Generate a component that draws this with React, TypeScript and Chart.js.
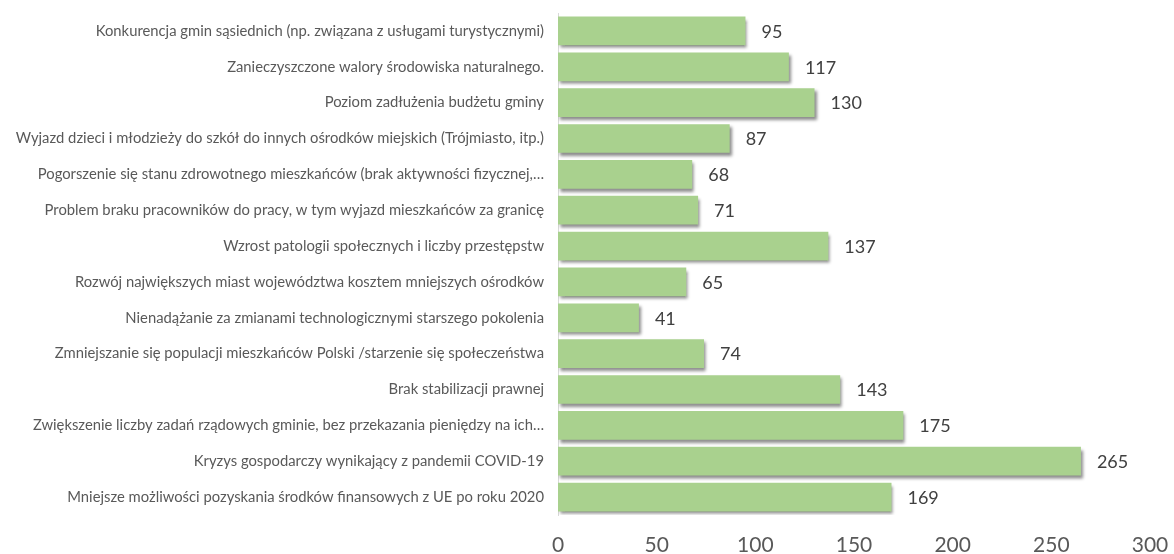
import React, { useEffect, useRef } from "react";
import { Chart, registerables } from "chart.js";

Chart.register(...registerables);

const categories: string[] = [
  "Konkurencja gmin sąsiednich (np. związana z usługami turystycznymi)",
  "Zanieczyszczone walory środowiska naturalnego.",
  "Poziom zadłużenia budżetu gminy",
  "Wyjazd dzieci i młodzieży do szkół do innych ośrodków miejskich (Trójmiasto, itp.)",
  "Pogorszenie się stanu zdrowotnego mieszkańców (brak aktywności fizycznej,…",
  "Problem braku pracowników do pracy, w tym wyjazd mieszkańców za granicę",
  "Wzrost patologii społecznych i liczby przestępstw",
  "Rozwój największych miast województwa kosztem mniejszych ośrodków",
  "Nienadążanie za zmianami technologicznymi starszego pokolenia",
  "Zmniejszanie się populacji mieszkańców Polski /starzenie się społeczeństwa",
  "Brak stabilizacji prawnej",
  "Zwiększenie liczby zadań rządowych gminie, bez przekazania pieniędzy na ich…",
  "Kryzys gospodarczy wynikający z pandemii COVID-19",
  "Mniejsze możliwości pozyskania środków finansowych z UE po roku 2020",
];

const values: number[] = [95, 117, 130, 87, 68, 71, 137, 65, 41, 74, 143, 175, 265, 169];

const xTicks: number[] = [0, 50, 100, 150, 200, 250, 300];

const shadowPlugin = {
  id: "barShadow",
  beforeDatasetsDraw(chart: any) {
    const ctx = chart.ctx;
    ctx.save();
    ctx.shadowColor = "rgba(0,0,0,0.45)";
    ctx.shadowBlur = 3;
    ctx.shadowOffsetX = 2;
    ctx.shadowOffsetY = 3;
  },
  afterDatasetsDraw(chart: any) {
    chart.ctx.restore();
  },
};

const valueLabelPlugin = {
  id: "valueLabels",
  afterDatasetsDraw(chart: any) {
    const ctx = chart.ctx;
    const meta = chart.getDatasetMeta(0);
    ctx.save();
    ctx.font = "18px Lato";
    ctx.fillStyle = "#404040";
    ctx.textAlign = "left";
    ctx.textBaseline = "middle";
    meta.data.forEach((bar: any, i: number) => {
      const v = chart.data.datasets[0].data[i];
      ctx.fillText(String(v), bar.x + 16, bar.y + 1);
    });
    ctx.restore();
  },
};

export default function App() {
  const ref = useRef<HTMLCanvasElement | null>(null);

  useEffect(() => {
    if (!ref.current) return;
    const chart = new Chart(ref.current, {
      type: "bar",
      data: {
        labels: categories,
        datasets: [
          {
            data: values,
            backgroundColor: "#a9d18e",
            borderWidth: 0,
            categoryPercentage: 1,
            barPercentage: 0.8,
          },
        ],
      },
      options: {
        indexAxis: "y",
        animation: false,
        responsive: true,
        maintainAspectRatio: false,
        layout: { padding: { top: 13, right: 0, bottom: 0, left: 0 } },
        plugins: {
          legend: { display: false },
          tooltip: { enabled: false },
        },
        scales: {
          x: {
            min: 0,
            max: 300,
            afterBuildTicks: (scale: any) => {
              scale.ticks = xTicks.map((v) => ({ value: v }));
            },
            grid: { display: false, drawTicks: false },
            border: { display: false },
            ticks: {
              font: { family: "Lato", size: 21 },
              color: "#595959",
              padding: 18,
              maxRotation: 0,
            },
            afterFit: (scale: any) => {
              scale.height = 39;
              scale.paddingRight = 24;
              scale.paddingLeft = 0;
            },
          },
          y: {
            grid: { display: false },
            border: { display: true, color: "#d9d9d9", width: 1 },
            ticks: {
              font: { family: "Lato", size: 14.8 },
              color: "#595959",
              padding: 6,
              autoSkip: false,
            },
            afterFit: (scale: any) => {
              scale.width = 558;
              scale.paddingTop = 0;
              scale.paddingBottom = 0;
            },
          },
        },
      },
      plugins: [shadowPlugin, valueLabelPlugin],
    });
    return () => chart.destroy();
  }, []);

  return (
    <div style={{ position: "absolute", left: 0, top: 0, width: 1174, height: 554 }}>
      <canvas ref={ref} />
    </div>
  );
}
